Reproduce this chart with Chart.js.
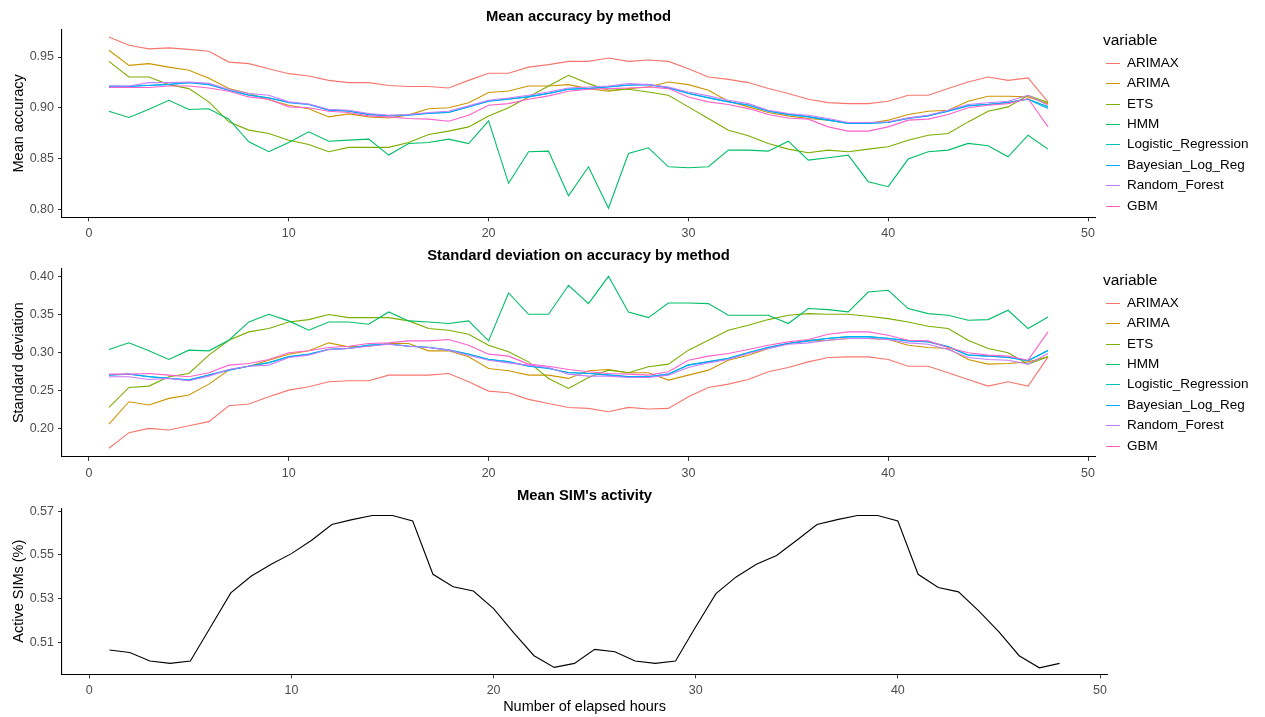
<!DOCTYPE html>
<html>
<head>
<meta charset="utf-8">
<script src="https://cdn.jsdelivr.net/npm/chart.js@4.4.0/dist/chart.umd.min.js"></script>
<style>
html,body{margin:0;padding:0;background:#fff;width:1265px;height:717px;overflow:hidden;font-family:"Liberation Sans",Arial,sans-serif;}
canvas{position:absolute;left:0;}
.legend{position:absolute;left:1080px;top:0;width:185px;height:240px;color:#000;}
.lg-title{position:absolute;left:23px;font-size:15.5px;line-height:16px;white-space:nowrap;}
.lg-item{position:absolute;left:26px;height:16px;line-height:16px;font-size:13.5px;white-space:nowrap;}
.lg-line{position:absolute;left:0;top:8px;width:14px;height:1px;}
.lg-text{position:absolute;left:21px;top:0;}
</style>
</head>
<body>
<canvas id="cAcc" width="1100" height="240" style="top:0px"></canvas>
<canvas id="cSd" width="1100" height="240" style="top:240px"></canvas>
<canvas id="cSim" width="1112" height="237" style="top:480px"></canvas>
<div class="legend" id="lgAcc" style="top:0px"></div>
<div class="legend" id="lgSd" style="top:240px"></div>
<script>
// ---------- data ----------
const hours = [1,2,3,4,5,6,7,8,9,10,11,12,13,14,15,16,17,18,19,20,21,22,23,24,25,26,27,28,29,30,31,32,33,34,35,36,37,38,39,40,41,42,43,44,45,46,47,48];
const xTicks = [0,10,20,30,40,50];
const methods = ["ARIMAX","ARIMA","ETS","HMM","Logistic_Regression","Bayesian_Log_Reg","Random_Forest","GBM"];
const colors = ["#F8766D","#CD9600","#7CAE00","#00BE67","#00BFC4","#00A9FF","#C77CFF","#FF61CC"];

const accTicks = ["0.80","0.85","0.90","0.95"];
const sdTicks = ["0.20","0.25","0.30","0.35","0.40"];
const simTicks = ["0.51","0.53","0.55","0.57"];

const accARIMAX = [0.9696,0.9615,0.958,0.959,0.9575,0.9556,0.945,0.9435,0.9385,0.9336,0.9313,0.927,0.9248,0.9248,0.922,0.921,0.921,0.9195,0.927,0.934,0.934,0.940,0.9425,0.9457,0.9457,0.949,0.9457,0.947,0.9457,0.9385,0.9303,0.928,0.9248,0.9189,0.914,0.9084,0.9051,0.9041,0.9041,0.9064,0.9123,0.9123,0.9189,0.9254,0.9303,0.927,0.9294,0.9058];
const accARIMA = [0.9566,0.9418,0.9435,0.940,0.937,0.929,0.919,0.914,0.908,0.9025,0.899,0.891,0.894,0.891,0.890,0.893,0.899,0.900,0.905,0.915,0.9166,0.9215,0.9215,0.9228,0.9189,0.9163,0.9189,0.9205,0.9254,0.9228,0.9172,0.9064,0.9009,0.8953,0.892,0.8894,0.8878,0.8845,0.8845,0.8878,0.8933,0.8966,0.8976,0.9064,0.9114,0.9114,0.9107,0.9041];
const accETS = [0.9457,0.9303,0.9303,0.9228,0.9189,0.9058,0.8862,0.878,0.8747,0.868,0.8639,0.8567,0.861,0.861,0.861,0.8658,0.8737,0.877,0.8812,0.892,0.900,0.9107,0.9215,0.932,0.9238,0.9172,0.9182,0.9156,0.9123,0.9009,0.8894,0.8779,0.8724,0.8649,0.8593,0.8557,0.8583,0.8567,0.8593,0.8616,0.8681,0.873,0.8747,0.8861,0.8966,0.9009,0.9123,0.9051];
const accHMM = [0.8966,0.8904,0.8986,0.9074,0.8983,0.899,0.8888,0.8665,0.8567,0.8658,0.8763,0.8671,0.8681,0.8691,0.8534,0.8648,0.8658,0.8691,0.8648,0.8871,0.8256,0.8567,0.8573,0.8133,0.8419,0.801,0.855,0.8606,0.8419,0.8409,0.8419,0.8583,0.8583,0.8573,0.8671,0.8485,0.8508,0.8534,0.8272,0.8223,0.8495,0.8567,0.8583,0.8649,0.8626,0.8517,0.873,0.8593];
const accLogReg = [0.9213,0.9212,0.9222,0.9231,0.9249,0.9231,0.9175,0.9126,0.9099,0.9054,0.9035,0.8979,0.8968,0.8936,0.8923,0.893,0.8946,0.8956,0.9011,0.9066,0.9086,0.911,0.9142,0.9184,0.9191,0.9207,0.9224,0.923,0.9198,0.9143,0.91,0.906,0.9027,0.8969,0.8936,0.8913,0.8881,0.8848,0.8847,0.8858,0.8897,0.8923,0.8969,0.9022,0.9035,0.9054,0.9086,0.9009];
const accBayes = [0.921,0.921,0.922,0.9228,0.9248,0.9228,0.9172,0.9123,0.9097,0.9051,0.9032,0.8976,0.8966,0.8933,0.892,0.8927,0.8943,0.8953,0.9009,0.9064,0.9084,0.9107,0.914,0.9182,0.9189,0.9205,0.9222,0.9228,0.9195,0.914,0.9097,0.9058,0.9025,0.8966,0.8933,0.891,0.8878,0.8845,0.8845,0.8855,0.8894,0.892,0.8966,0.9019,0.9032,0.9051,0.9084,0.8992];
const accRF = [0.9215,0.9215,0.9248,0.9248,0.9254,0.924,0.918,0.914,0.9123,0.9058,0.9038,0.8986,0.8976,0.8943,0.8927,0.8933,0.8953,0.8966,0.9019,0.9074,0.9097,0.9123,0.9156,0.9195,0.9205,0.9215,0.9238,0.9228,0.9205,0.9156,0.9117,0.9074,0.9041,0.8976,0.8943,0.8927,0.8894,0.8855,0.8855,0.8862,0.8901,0.8927,0.8976,0.9032,0.905,0.9064,0.9123,0.9025];
const accGBM = [0.92,0.92,0.92,0.9215,0.9215,0.9195,0.9163,0.9107,0.9084,0.9009,0.90,0.8966,0.8953,0.892,0.891,0.8894,0.8888,0.8868,0.8927,0.9025,0.9041,0.9084,0.9117,0.9163,0.9182,0.9189,0.9195,0.9205,0.9189,0.9107,0.9058,0.9032,0.8992,0.8933,0.89,0.8888,0.8812,0.877,0.877,0.8812,0.8878,0.8888,0.8933,0.90,0.9025,0.9041,0.9091,0.8812];

const sdARIMAX = [0.1738,0.1943,0.20,0.1978,0.2035,0.2088,0.2298,0.232,0.2416,0.2503,0.2547,0.2613,0.2626,0.2626,0.27,0.27,0.27,0.2722,0.2613,0.249,0.2468,0.2381,0.2328,0.2274,0.2263,0.2219,0.2276,0.2254,0.2263,0.2416,0.2538,0.2582,0.2643,0.2744,0.2801,0.2875,0.2932,0.2941,0.2941,0.2906,0.2818,0.2818,0.2731,0.2643,0.2556,0.2613,0.2556,0.2941];
const sdARIMA = [0.2057,0.235,0.2307,0.2394,0.2438,0.2582,0.2766,0.2818,0.2897,0.2976,0.302,0.3125,0.3072,0.3081,0.3116,0.3116,0.302,0.302,0.2941,0.2788,0.2757,0.27,0.27,0.2657,0.2757,0.2775,0.2731,0.2731,0.2635,0.27,0.2766,0.2897,0.2963,0.305,0.3116,0.3151,0.316,0.3182,0.3182,0.3169,0.3094,0.3064,0.305,0.2906,0.2845,0.2853,0.2875,0.2941];
const sdETS = [0.2276,0.2538,0.2556,0.2678,0.2722,0.2963,0.316,0.3269,0.3313,0.34,0.3431,0.3497,0.3457,0.3457,0.3457,0.3414,0.3313,0.3291,0.3239,0.3094,0.3007,0.2875,0.2657,0.2525,0.267,0.2766,0.2731,0.281,0.2845,0.3029,0.316,0.3291,0.3357,0.3431,0.3488,0.351,0.3501,0.3501,0.3475,0.3444,0.34,0.3344,0.3313,0.316,0.305,0.2994,0.2845,0.2941];
const sdHMM = [0.3037,0.3125,0.302,0.2906,0.3029,0.302,0.316,0.34,0.3501,0.3414,0.3291,0.34,0.34,0.337,0.3532,0.3414,0.34,0.3379,0.3414,0.3151,0.3781,0.3501,0.3501,0.3882,0.3641,0.40,0.3532,0.3457,0.365,0.365,0.3641,0.3488,0.3488,0.3488,0.3379,0.3576,0.3562,0.3532,0.3794,0.3816,0.3576,0.351,0.3488,0.3422,0.3431,0.3554,0.3313,0.3466];
const sdLogReg = [0.2702,0.2715,0.268,0.2659,0.2638,0.2702,0.2769,0.2821,0.2865,0.2944,0.2979,0.304,0.3053,0.3097,0.311,0.3084,0.3067,0.3032,0.2979,0.2909,0.2878,0.2821,0.2791,0.2734,0.2725,0.2703,0.2681,0.2681,0.2716,0.2835,0.2878,0.2922,0.2997,0.3067,0.3119,0.3154,0.3185,0.3207,0.3207,0.3185,0.3154,0.3141,0.3075,0.2966,0.2953,0.2935,0.2892,0.302];
const sdBayes = [0.270,0.2713,0.2678,0.2657,0.2635,0.27,0.2766,0.2818,0.2862,0.2941,0.2976,0.3037,0.305,0.3094,0.3107,0.3081,0.3064,0.3029,0.2976,0.2906,0.2875,0.2818,0.2788,0.2731,0.2722,0.27,0.2678,0.2678,0.2713,0.2832,0.2875,0.2919,0.2994,0.3064,0.3116,0.3151,0.3182,0.3204,0.3204,0.3182,0.3151,0.3138,0.3072,0.2963,0.295,0.2932,0.2889,0.3029];
const sdRF = [0.2678,0.2678,0.2643,0.2657,0.2626,0.2687,0.2775,0.2818,0.2832,0.2932,0.2963,0.3037,0.305,0.3081,0.3107,0.3081,0.3064,0.3029,0.2963,0.2897,0.2862,0.2832,0.2801,0.2713,0.2687,0.2687,0.267,0.267,0.27,0.2801,0.2862,0.2906,0.2985,0.305,0.3107,0.3125,0.316,0.3182,0.3182,0.3169,0.3125,0.3107,0.3037,0.2932,0.2906,0.2897,0.2845,0.2985];
const sdGBM = [0.2713,0.2713,0.2722,0.27,0.2678,0.2731,0.2832,0.2853,0.2906,0.2994,0.302,0.3064,0.3081,0.3116,0.3125,0.3151,0.3151,0.3169,0.3094,0.2976,0.295,0.2845,0.2818,0.2775,0.2744,0.2722,0.2713,0.27,0.2744,0.2897,0.295,0.2985,0.3037,0.3094,0.3138,0.3169,0.3239,0.3269,0.3269,0.3225,0.316,0.3151,0.3064,0.2994,0.2963,0.295,0.2897,0.3269];

const simActivity = [0.5067,0.5056,0.5017,0.5006,0.5017,0.5172,0.5327,0.5403,0.5458,0.5506,0.5567,0.5639,0.5661,0.568,0.568,0.5655,0.5412,0.5355,0.5336,0.5256,0.5145,0.5041,0.4988,0.5006,0.507,0.5059,0.5017,0.5006,0.5017,0.5173,0.5324,0.54,0.5458,0.5498,0.5567,0.5639,0.5661,0.568,0.568,0.5655,0.5412,0.5352,0.5332,0.5245,0.515,0.5041,0.4986,0.5006];

const accSeries = [accARIMAX,accARIMA,accETS,accHMM,accLogReg,accBayes,accRF,accGBM];
const sdSeries = [sdARIMAX,sdARIMA,sdETS,sdHMM,sdLogReg,sdBayes,sdRF,sdGBM];

// ---------- helpers ----------
const FONT = "'Liberation Sans', Arial, sans-serif";
const toPts = arr => arr.map((v, i) => ({x: hours[i], y: v}));

function methodDatasets(series) {
  return series.map((vals, i) => ({
    label: methods[i],
    data: toPts(vals),
    borderColor: colors[i],
    backgroundColor: colors[i],
    borderWidth: 1.1,
    pointRadius: 0,
    tension: 0,
    fill: false,
    order: methods.length - i
  }));
}

function makePanel(id, datasets, cfg) {
  return new Chart(document.getElementById(id), {
    type: 'line',
    data: { datasets: datasets },
    options: {
      responsive: false,
      animation: false,
      devicePixelRatio: 1,
      layout: { padding: { left: 0, right: cfg.padRight, top: 0, bottom: 0 } },
      plugins: {
        legend: { display: false },
        tooltip: { enabled: false },
        title: {
          display: true, text: cfg.title, fullSize: false, color: '#000',
          font: { family: FONT, size: 14.8, weight: 'bold' },
          padding: { top: cfg.titleTop, bottom: cfg.titleBottom }
        }
      },
      scales: {
        x: {
          type: 'linear', min: cfg.xMin, max: cfg.xMax,
          afterBuildTicks: s => { s.ticks = xTicks.map(v => ({ value: v })); },
          afterFit: s => { s.height = cfg.xHeight; },
          ticks: { font: { family: FONT, size: 12.5 }, color: '#4D4D4D', padding: 5, maxRotation: 0, autoSkip: false,
                   callback: (v, i) => String(xTicks[i]) },
          grid: { display: true, drawOnChartArea: false, drawTicks: true, tickLength: 4, color: '#333333', tickColor: '#333333' },
          border: { display: true, color: '#000', width: 1.1 },
          title: cfg.xTitle ? { display: true, text: cfg.xTitle, color: '#000', font: { family: FONT, size: 14.5 }, padding: { top: 0, bottom: 1.6 } } : { display: false }
        },
        y: {
          type: 'linear', min: cfg.yMin, max: cfg.yMax,
          afterBuildTicks: s => { s.ticks = cfg.yTicks.map(t => ({ value: parseFloat(t) })); },
          afterFit: s => { s.width = 62; },
          ticks: { font: { family: FONT, size: 12.5 }, color: '#4D4D4D', padding: 4, autoSkip: false,
                   callback: (v, i) => cfg.yTicks[i] },
          grid: { display: true, drawOnChartArea: false, drawTicks: true, tickLength: 4, color: '#333333', tickColor: '#333333' },
          border: { display: true, color: '#000', width: 1.1 },
          title: { display: true, text: cfg.yTitle, color: '#000', font: { family: FONT, size: 14.5 }, padding: { top: 10, bottom: 0 } }
        }
      }
    }
  });
}

function buildLegend(id) {
  const el = document.getElementById(id);
  const t = document.createElement('div');
  t.className = 'lg-title';
  t.style.top = '32px';
  t.textContent = 'variable';
  el.appendChild(t);
  methods.forEach((m, i) => {
    const it = document.createElement('div');
    it.className = 'lg-item';
    it.style.top = (62.7 - 8 + i * 20.43) + 'px';
    const ln = document.createElement('div');
    ln.className = 'lg-line';
    ln.style.background = colors[i];
    const tx = document.createElement('div');
    tx.className = 'lg-text';
    tx.textContent = m;
    it.appendChild(ln); it.appendChild(tx);
    el.appendChild(it);
  });
}

// ---------- panels ----------
makePanel('cAcc', methodDatasets(accSeries), {
  title: 'Mean accuracy by method', yTitle: 'Mean accuracy', yTicks: accTicks,
  yMin: 0.79214, yMax: 0.97723, xMin: -1.35, xMax: 50.35,
  padRight: 5, titleTop: 8.3, titleBottom: 3.3, xHeight: 22.7
});

makePanel('cSd', methodDatasets(sdSeries), {
  title: 'Standard deviation on accuracy by method', yTitle: 'Standard deviation', yTicks: sdTicks,
  yMin: 0.16244, yMax: 0.4105, xMin: -1.35, xMax: 50.35,
  padRight: 5, titleTop: 7.3, titleBottom: 3.3, xHeight: 23.1
});

makePanel('cSim', [{
  label: "Mean SIM's activity",
  data: toPts(simActivity),
  borderColor: '#000000', backgroundColor: '#000000',
  borderWidth: 1.1, pointRadius: 0, tension: 0, fill: false
}], {
  title: "Mean SIM's activity", yTitle: 'Active SIMs (%)', yTicks: simTicks,
  yMin: 0.49564, yMax: 0.57132, xMin: -1.35, xMax: 50.35,
  padRight: 4.3, titleTop: 7.3, titleBottom: 3.1, xHeight: 42.7,
  xTitle: 'Number of elapsed hours'
});

buildLegend('lgAcc');
buildLegend('lgSd');
</script>
</body>
</html>
